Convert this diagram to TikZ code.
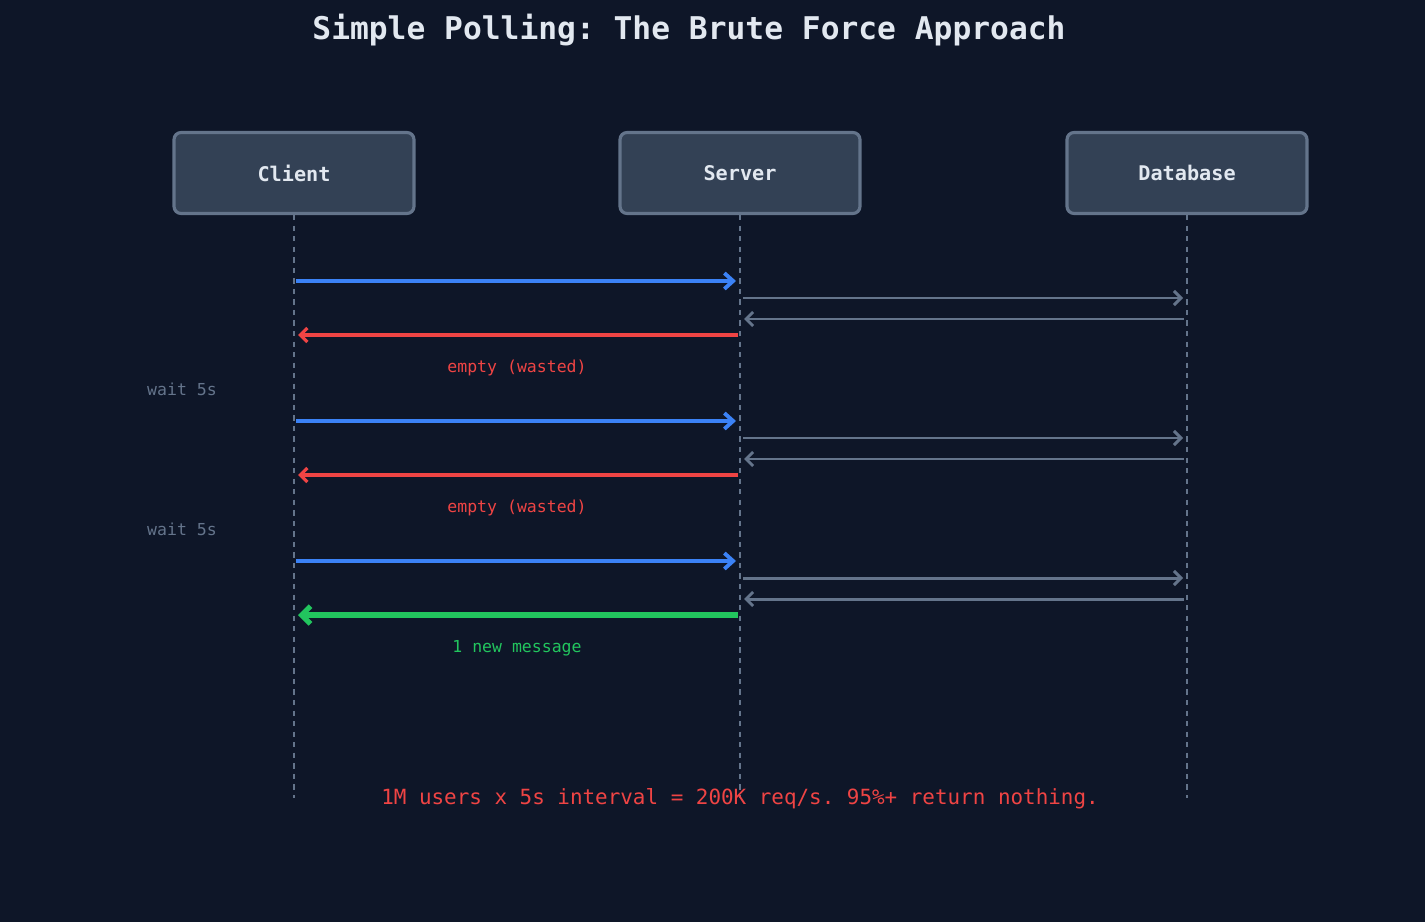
\documentclass[tikz,border=0pt]{standalone}
\usepackage{fontspec}
\setmonofont{DejaVu Sans Mono}
\usetikzlibrary{arrows.meta, positioning}
\definecolor{bgcol}{HTML}{0E1628}
\definecolor{boxfill}{HTML}{334155}
\definecolor{boxline}{HTML}{64748B}
\definecolor{txtcol}{HTML}{E2E8F0}
\definecolor{reqblue}{HTML}{3B82F6}
\definecolor{resred}{HTML}{EF4444}
\definecolor{resgreen}{HTML}{22C55E}
\tikzset{
  actor/.style={rectangle, rounded corners=4pt, draw=boxline, line width=1.8pt,
    fill=boxfill, minimum width=4.8cm, minimum height=1.62cm,
    text=txtcol, font=\ttfamily\bfseries\fontsize{11.5}{13}\selectfont},
  lifeline/.style={boxline, dashed, line width=0.8pt},
  request/.style={reqblue, line width=2.2pt, -{Straight Barb[length=5pt,width=9pt]}},
  query/.style={boxline, line width=1.7pt, -{Straight Barb[length=4pt,width=8pt]}},
  empty/.style={resred, line width=1.9pt, -{Straight Barb[length=4pt,width=8pt]}},
  hit/.style={resgreen, line width=3pt, -{Straight Barb[length=5pt,width=10pt]}},
  note/.style={font=\ttfamily\fontsize{9.4}{11}\selectfont}
}
\begin{document}
\begin{tikzpicture}[x=0.02cm,y=-0.02cm]
\fill[bgcol] (0,0) rectangle (1425,922);
\useasboundingbox (0,0) rectangle (1425,922);

% Title
\node (title) [text=txtcol, font=\ttfamily\bfseries\fontsize{17.8}{20}\selectfont] at (689,30) {Simple Polling: The Brute Force Approach};

% Actors
\node (client) [actor] at (294,173) {Client};
\node (server) [actor] at (740,173) {Server};
\node (db) [actor] at (1187,173) {Database};

% Lifelines
\coordinate (clientend) at (294,798);
\coordinate (serverend) at (740,798);
\coordinate (dbend) at (1187,798);
\draw [lifeline] (client.south) -- (clientend);
\draw [lifeline] (server.south) -- (serverend);
\draw [lifeline] (db.south) -- (dbend);

% Polling rounds
\foreach \i/\y in {1/0, 2/140, 3/280} {
  \coordinate (c1\i) at (296,281+\y);
  \coordinate (s1\i) at (736,281+\y);
  \coordinate (s2\i) at (743,298+\y);
  \coordinate (d2\i) at (1183,298+\y);
  \coordinate (d3\i) at (1184,319+\y);
  \coordinate (s3\i) at (744,319+\y);
  \coordinate (s4\i) at (738,335+\y);
  \coordinate (c4\i) at (298,335+\y);
  \draw [request] (c1\i) -- (s1\i);
  \draw [query] (s2\i) -- (d2\i);
  \draw [query] (d3\i) -- (s3\i);
}
\draw [empty] (s41) -- (c41);
\draw [empty] (s42) -- (c42);
\draw [hit] (s43) -- (c43);

% Labels
\node (lbl1) [note, text=resred] at (517,368) {empty (wasted)};
\node (lbl2) [note, text=resred] at (517,508) {empty (wasted)};
\node (lbl3) [note, text=resgreen] at (517,648) {1 new message};
\node (wait1) [note, text=boxline] at (182,389) {wait 5s};
\node (wait2) [note, text=boxline] at (182,529) {wait 5s};

% Footer
\node (footer) [text=resred, font=\ttfamily\fontsize{11.9}{14}\selectfont] at (740,799) {1M users x 5s interval = 200K req/s. 95\%+ return nothing.};
\end{tikzpicture}
\end{document}
